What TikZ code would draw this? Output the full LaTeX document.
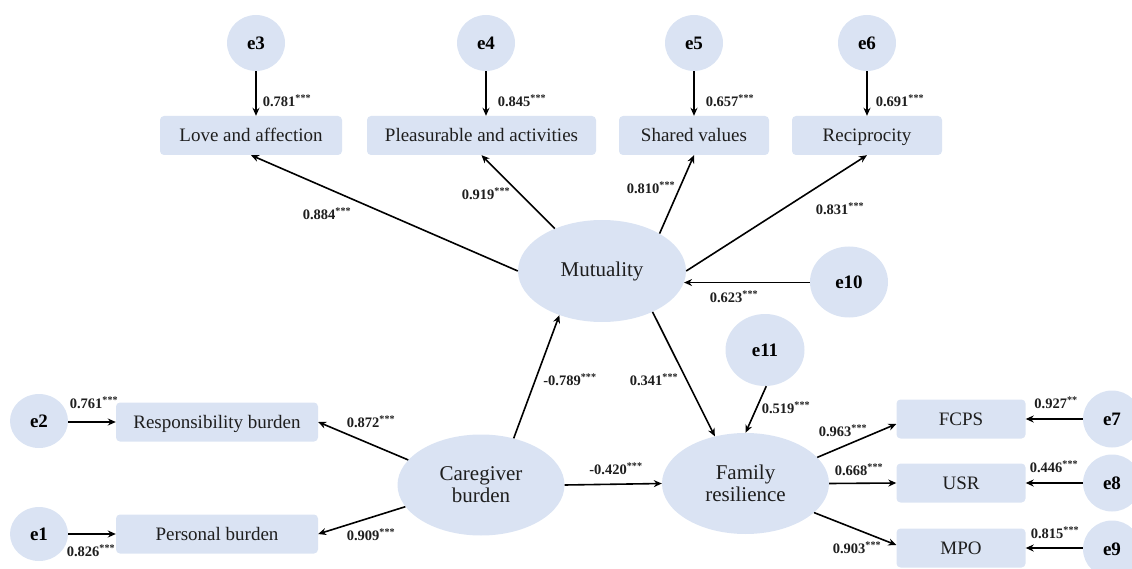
\documentclass[tikz,border=0pt]{standalone}
\usepackage{fontspec}
\setmainfont{Liberation Serif}
\usetikzlibrary{shapes.geometric,arrows.meta}
\definecolor{nfill}{RGB}{218,227,243}
\definecolor{ntext}{RGB}{30,30,30}
\tikzset{
  errc/.style={ellipse,fill=nfill,draw=none,inner sep=0pt,font=\rmfamily\fontsize{19}{21}\selectfont\bfseries,text=black},
  obsbox/.style={rectangle,rounded corners=4pt,fill=nfill,draw=none,inner sep=0pt,minimum height=39pt,text height=12.5pt,text depth=0pt,font=\rmfamily\fontsize{19}{21}\selectfont,text=ntext},
  latent/.style={ellipse,fill=nfill,draw=none,inner sep=0pt,align=center,font=\rmfamily\fontsize{21}{22}\selectfont,text=ntext,minimum width=167pt,minimum height=101pt},
  coef/.style={inner sep=0pt,font=\rmfamily\fontsize{14.5}{16}\selectfont\bfseries,text=ntext},
  arr/.style={line width=1.6pt,-{Stealth[length=8pt,width=7pt]}}
}
\newcommand{\sig}[1]{#1\textsuperscript{***}}
\begin{document}
\begin{tikzpicture}[x=1pt,y=-1pt]
\useasboundingbox (0,0) rectangle (1132,569);
% top error terms
\node[errc,minimum width=58pt,minimum height=56pt] (e3) at (256,43) {e3};
\node[errc,minimum width=58pt,minimum height=56pt] (e4) at (486,43) {e4};
\node[errc,minimum width=58pt,minimum height=56pt] (e5) at (694,43) {e5};
\node[errc,minimum width=58pt,minimum height=56pt] (e6) at (867,43) {e6};
% top indicators
\node[obsbox,minimum width=182pt] (love) at (251,135.5) {Love and affection};
\node[obsbox,minimum width=229pt] (pleas) at (481.5,135.5) {Pleasurable and activities};
\node[obsbox,minimum width=150pt] (shared) at (694,135.5) {Shared values};
\node[obsbox,minimum width=150pt] (recip) at (867,135.5) {Reciprocity};
% latent
\node[latent,minimum width=168pt,minimum height=102pt] (mut) at (602,271) {Mutuality};
\node[latent] (cb) at (481,485) {Caregiver\\burden};
\node[latent] (fr) at (745.5,483.5) {Family\\resilience};
\node[errc,minimum width=78pt,minimum height=71pt] (e10) at (849,282) {e10};
\node[errc,minimum width=79pt,minimum height=72pt] (e11) at (765,350) {e11};
% left
\node[errc,minimum width=58pt,minimum height=54pt] (e2) at (39,421) {e2};
\node[errc,minimum width=58pt,minimum height=54pt] (e1) at (39,534) {e1};
\node[obsbox,minimum width=202pt] (rb) at (217,422) {Responsibility burden};
\node[obsbox,minimum width=202pt] (pb) at (217,534) {Personal burden};
% right
\node[obsbox,minimum width=129pt] (fcps) at (961,419) {FCPS};
\node[obsbox,minimum width=129pt] (usr) at (961,483) {USR};
\node[obsbox,minimum width=129pt] (mpo) at (961,548) {MPO};
\node[errc,minimum width=58pt,minimum height=57pt] (e7) at (1112,419) {e7};
\node[errc,minimum width=58pt,minimum height=57pt] (e8) at (1112,483) {e8};
\node[errc,minimum width=58pt,minimum height=57pt] (e9) at (1112,549) {e9};
% arrows top
\draw[arr] (e3.south) -- (e3.south |- love.north);
\draw[arr] (e4.south) -- (e4.south |- pleas.north);
\draw[arr] (e5.south) -- (e5.south |- shared.north);
\draw[arr] (e6.south) -- (e6.south |- recip.north);
\draw[arr] (mut.180) -- (love.south);
\draw[arr] (mut.138) -- (pleas.south);
\draw[arr] (mut.33) -- (shared.south);
\draw[arr] (mut.0) -- (recip.south);
\draw[arr] (e10.west |- mut.-8) -- (mut.-8);
% middle
\draw[arr] (cb.55) -- (mut.226);
\draw[arr] (mut.-39) -- (fr.123);
\draw[arr] (cb.0) -- (fr.180);
\draw[arr] (e11.-88) -- (fr.90);
% left
\draw[arr] (e2.east |- rb.west) -- (rb.west);
\draw[arr] (e1.east |- pb.west) -- (pb.west);
\draw[arr] (cb.161) -- (rb.east);
\draw[arr] (cb.196) -- (pb.east);
% right
\draw[arr] (fr.20) -- ([yshift=-5pt]fcps.west);
\draw[arr] (fr.0) -- (usr.west);
\draw[arr] (fr.-23) -- ([yshift=3pt]mpo.west);
\draw[arr] (e7.west |- fcps.east) -- (fcps.east);
\draw[arr] (e8.west |- usr.east) -- (usr.east);
\draw[arr] (e9.west |- mpo.east) -- (mpo.east);
% coefficients
\node[coef] (c1) at (287,101) {\sig{0.781}};
\node[coef] (c2) at (522,101) {\sig{0.845}};
\node[coef] (c3) at (730,101) {\sig{0.657}};
\node[coef] (c4) at (900,101) {\sig{0.691}};
\node[coef] (c5) at (327,214) {\sig{0.884}};
\node[coef] (c6) at (486,194) {\sig{0.919}};
\node[coef] (c7) at (651,188) {\sig{0.810}};
\node[coef] (c8) at (840,209) {\sig{0.831}};
\node[coef] (c9) at (734,297) {\sig{0.623}};
\node[coef] (c10) at (570,380) {\sig{-0.789}};
\node[coef] (c11) at (654,380) {\sig{0.341}};
\node[coef] (c12) at (94,403) {\sig{0.761}};
\node[coef] (c13) at (91,551) {\sig{0.826}};
\node[coef] (c14) at (371,422) {\sig{0.872}};
\node[coef] (c15) at (371,535) {\sig{0.909}};
\node[coef] (c16) at (616,469) {\sig{-0.420}};
\node[coef] (c17) at (786,408) {\sig{0.519}};
\node[coef] (c18) at (843,431) {\sig{0.963}};
\node[coef] (c19) at (859,470) {\sig{0.668}};
\node[coef] (c20) at (857,548) {\sig{0.903}};
\node[coef] (c21) at (1056,403) {0.927\textsuperscript{**}};
\node[coef] (c22) at (1054,467) {\sig{0.446}};
\node[coef] (c23) at (1055,533) {\sig{0.815}};
\end{tikzpicture}
\end{document}
